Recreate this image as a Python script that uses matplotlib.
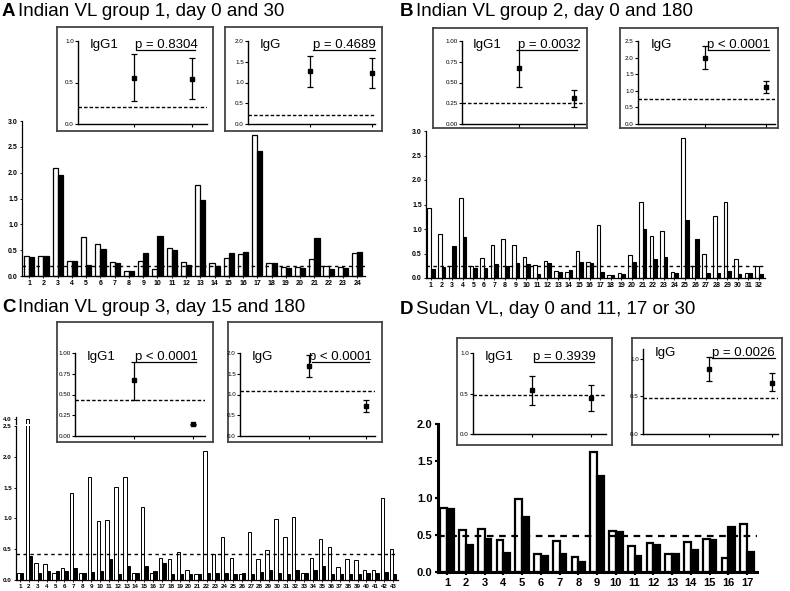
import matplotlib
matplotlib.use('Agg')
import matplotlib.pyplot as plt
import numpy as np

W, H = 790, 591
plt.rcParams['font.family'] = ['Liberation Sans', 'DejaVu Sans']

# ---- bar data (white = first time point, black = second) ----
a_white = [0.39, 0.39, 2.10, 0.30, 0.76, 0.61, 0.27, 0.09, 0.29, 0.13, 0.54, 0.28,
           1.77, 0.25, 0.35, 0.42, 2.72, 0.26, 0.17, 0.17, 0.32, 0.19, 0.18, 0.45]
a_black = [0.36, 0.39, 1.95, 0.29, 0.22, 0.53, 0.26, 0.09, 0.45, 0.77, 0.51, 0.21,
           1.48, 0.19, 0.44, 0.46, 2.41, 0.26, 0.15, 0.16, 0.73, 0.14, 0.15, 0.46]
a_cut = 0.20

b_white = [1.43, 0.90, 0.25, 1.63, 0.25, 0.40, 0.67, 0.80, 0.68, 0.42, 0.26, 0.34,
           0.15, 0.12, 0.56, 0.32, 1.09, 0.07, 0.11, 0.46, 1.56, 0.85, 0.95, 0.12,
           2.85, 0.24, 0.50, 1.26, 1.56, 0.39, 0.10, 0.25]
b_black = [0.19, 0.22, 0.65, 0.83, 0.20, 0.20, 0.29, 0.25, 0.31, 0.29, 0.08, 0.31,
           0.12, 0.16, 0.32, 0.31, 0.12, 0.06, 0.08, 0.33, 1.00, 0.38, 0.42, 0.10,
           1.18, 0.79, 0.11, 0.11, 0.14, 0.09, 0.10, 0.09]
b_cut = 0.245

c_white = [0.11, 4.00, 0.28, 0.26, 0.12, 0.20, 1.41, 0.11, 1.67, 0.96, 0.97, 1.51,
           1.68, 0.12, 1.18, 0.11, 0.36, 0.34, 0.46, 0.17, 0.09, 2.09, 0.43, 0.69,
           0.36, 0.10, 0.78, 0.34, 0.49, 0.99, 0.70, 1.03, 0.12, 0.36, 0.67, 0.54,
           0.21, 0.34, 0.33, 0.17, 0.16, 1.33, 0.51]
c_black = [0.11, 0.39, 0.12, 0.15, 0.15, 0.15, 0.20, 0.11, 0.13, 0.14, 0.34, 0.10,
           0.23, 0.12, 0.22, 0.15, 0.27, 0.10, 0.10, 0.10, 0.09, 0.12, 0.11, 0.11,
           0.09, 0.11, 0.09, 0.13, 0.17, 0.12, 0.09, 0.16, 0.11, 0.16, 0.22, 0.10,
           0.09, 0.10, 0.09, 0.12, 0.11, 0.13, 0.10]
c_cut = 0.43

d_white = [0.87, 0.57, 0.58, 0.43, 0.99, 0.24, 0.42, 0.20, 1.62, 0.56, 0.35, 0.39,
           0.24, 0.41, 0.44, 0.19, 0.65]
d_black = [0.85, 0.36, 0.45, 0.26, 0.74, 0.21, 0.25, 0.13, 1.30, 0.54, 0.22, 0.36,
           0.25, 0.30, 0.43, 0.61, 0.27]
d_cut = 0.48

# ---- inset data: mean, low, high for the two time points ----
ins_a1 = dict(label='IgG1', p='p = 0.8304', mean=[0.55, 0.54], lo=[0.28, 0.30], hi=[0.84, 0.80], cut=0.20)
ins_a2 = dict(label='IgG', p='p = 0.4689', mean=[1.27, 1.22], lo=[0.90, 0.87], hi=[1.64, 1.59], cut=0.22)
ins_b1 = dict(label='IgG1', p='p = 0.0032', mean=[0.67, 0.31], lo=[0.45, 0.21], hi=[0.89, 0.41], cut=0.25)
ins_b2 = dict(label='IgG', p='p < 0.0001', mean=[2.00, 1.10], lo=[1.67, 0.92], hi=[2.35, 1.30], cut=0.75)
ins_c1 = dict(label='IgG1', p='p < 0.0001', mean=[0.67, 0.14], lo=[0.43, 0.13], hi=[0.89, 0.15], cut=0.43)
ins_c2 = dict(label='IgG', p='p < 0.0001', mean=[1.68, 0.72], lo=[1.42, 0.58], hi=[1.95, 0.86], cut=1.08)
ins_d1 = dict(label='IgG1', p='p = 0.3939', mean=[0.54, 0.44], lo=[0.36, 0.29], hi=[0.72, 0.60], cut=0.48)
ins_d2 = dict(label='IgG', p='p = 0.0026', mean=[0.87, 0.68], lo=[0.71, 0.57], hi=[1.03, 0.81], cut=0.48)


def rect(l, t, r, b):
    return [l / W, 1 - b / H, (r - l) / W, (b - t) / H]


def bar_panel(fig, pos, white, black, cut, ylim, yticks, xlim, width, lw,
              labsize, bold_axes=False, clip=False):
    ax = fig.add_axes(rect(*pos))
    x = np.arange(len(white))
    ax.bar(x - width / 2, white, width, color='white', edgecolor='black', lw=lw, clip_on=clip)
    ax.bar(x + width / 2, black, width, color='black', edgecolor='black', lw=lw, clip_on=clip)
    ax.axhline(cut, color='black', lw=1.6 if bold_axes else 1.0,
               ls=(0, (3, 2.5)) if bold_axes else (0, (2.5, 2.5)))
    ax.set_xlim(*xlim)
    ax.set_ylim(*ylim)
    ax.set_yticks(yticks)
    ax.set_yticklabels([f'{t:.1f}' for t in yticks])
    ax.set_xticks(x)
    ax.set_xticklabels([str(i + 1) for i in x])
    for s in ['top', 'right']:
        ax.spines[s].set_visible(False)
    sw = 2.2 if bold_axes else 0.9
    for s in ['left', 'bottom']:
        ax.spines[s].set_linewidth(sw)
    ax.tick_params(labelsize=labsize, length=2.5 if bold_axes else 1.5,
                   width=sw * 0.7, pad=1.5)
    for t in ax.get_xticklabels() + ax.get_yticklabels():
        t.set_fontweight('bold')
    ax.patch.set_alpha(0)
    return ax


def inset(fig, box, inner, d, ylim, yticks, fmt, xlim=(0.05, 2.25)):
    bx = fig.add_axes(rect(*box))
    bx.set_xticks([])
    bx.set_yticks([])
    for s in bx.spines.values():
        s.set_color('#444444')
        s.set_linewidth(1.3)
    ax = fig.add_axes(rect(*inner))
    m = np.array(d['mean'])
    err = [m - np.array(d['lo']), np.array(d['hi']) - m]
    ax.errorbar([1, 2], m, yerr=err, fmt='s', color='black', ms=3.5,
                capsize=2.5, elinewidth=0.9, capthick=0.9)
    ax.axhline(d['cut'], color='black', lw=1.0, ls=(0, (2.5, 1.5)))
    ax.set_xlim(*xlim)
    ax.set_ylim(*ylim)
    ax.set_yticks(yticks)
    ax.set_yticklabels([fmt.format(t) for t in yticks])
    ax.set_xticks([1, 2])
    ax.set_xticklabels([])
    for s in ['top', 'right']:
        ax.spines[s].set_visible(False)
    for s in ['left', 'bottom']:
        ax.spines[s].set_linewidth(1.0)
    ax.tick_params(labelsize=4.5, length=2, width=0.8, pad=1)
    ax.patch.set_alpha(0)
    ax.text(0.09, 1.02, d['label'], transform=ax.transAxes, fontsize=9.5, va='top')
    tr = ax.get_xaxis_transform()
    ax.text(1.55, 1.02, d['p'], transform=tr, fontsize=9.5, va='top', ha='center')
    ax.plot([1.05, 2.05], [0.89, 0.89], transform=tr, color='black', lw=0.9, clip_on=False)
    return ax


fig = plt.figure(figsize=(W / 100, H / 100), dpi=100)


def title(x, y, letter, text):
    fig.text(x / W, 1 - y / H, letter, fontsize=13.5, fontweight='bold', va='center')
    fig.text((x + 16) / W, 1 - y / H, text, fontsize=13.5, va='center')


title(2, 12, 'A', 'Indian VL group 1, day 0 and 30')
title(400, 12, 'B', 'Indian VL group 2, day 0 and 180')
title(2, 308, 'C', 'Indian VL group 3, day 15 and 180')
title(400, 310, 'D', 'Sudan VL, day 0 and 11, 17 or 30')

# ---- bar charts ----
bar_panel(fig, (22, 121, 365, 276), a_white, a_black, a_cut, (0, 3.0),
          np.arange(0, 3.01, 0.5), (-0.5, 23.55), 0.36, 0.9, 5)
bar_panel(fig, (426, 131, 765, 278), b_white, b_black, b_cut, (0, 3.0),
          np.arange(0, 3.01, 0.5), (-0.47, 31.57), 0.34, 0.8, 5)
c_pos = (16, 426, 398, 580)
bar_panel(fig, c_pos, c_white, c_black, c_cut, (0, 2.5),
          np.arange(0, 2.51, 0.5), (-0.45, 42.55), 0.38, 0.7, 4.5, clip=True)
# broken axis: short top segment of panel C showing the value near 4.0
axc_top = fig.add_axes(rect(16, 417, 398, 424))
xc = np.arange(len(c_white))
axc_top.bar(xc - 0.19, c_white, 0.38, color='white', edgecolor='black', lw=0.7)
axc_top.set_xlim(-0.45, 42.55)
axc_top.set_ylim(3.93, 4.03)
axc_top.set_yticks([4.0])
axc_top.set_yticklabels(['4.0'])
axc_top.set_xticks([])
for s in ['top', 'right', 'bottom']:
    axc_top.spines[s].set_visible(False)
axc_top.spines['left'].set_linewidth(0.9)
axc_top.tick_params(labelsize=4.5, length=1.5, width=0.6, pad=1.5)
for t in axc_top.get_yticklabels():
    t.set_fontweight('bold')
axc_top.patch.set_alpha(0)

bar_panel(fig, (438, 424, 757, 572), d_white, d_black, d_cut, (0, 2.0),
          np.arange(0, 2.01, 0.5), (-0.48, 16.53), 0.36, 1.6, 8, bold_axes=True)

# ---- insets ----
inset(fig, (57, 27, 213, 131), (78, 41, 207, 124), ins_a1, (0, 1.0), [0, 0.5, 1.0], '{:.1f}')
inset(fig, (225, 27, 382, 131), (248, 41, 375, 124), ins_a2, (0, 2.0), [0, 0.5, 1.0, 1.5, 2.0], '{:.1f}',
      xlim=(0.0, 2.05))
inset(fig, (433, 28, 587, 128), (462, 41, 585, 124), ins_b1, (0, 1.0), [0, 0.25, 0.5, 0.75, 1.0], '{:.2f}',
      xlim=(-0.05, 2.2))
inset(fig, (620, 28, 778, 128), (638, 41, 775, 124), ins_b2, (0, 2.5), [0, 0.5, 1.0, 1.5, 2.0, 2.5], '{:.1f}',
      xlim=(-0.1, 2.15))
inset(fig, (57, 322, 213, 442), (75, 353, 205, 436), ins_c1, (0, 1.0), [0, 0.25, 0.5, 0.75, 1.0], '{:.2f}',
      xlim=(0.0, 2.2))
inset(fig, (228, 322, 382, 442), (240, 353, 375, 436), ins_c2, (0, 2.0), [0, 0.5, 1.0, 1.5, 2.0], '{:.1f}',
      xlim=(-0.2, 2.15))
inset(fig, (457, 338, 612, 445), (473, 353, 606, 434), ins_d1, (0, 1.0), [0, 0.5, 1.0], '{:.1f}',
      xlim=(0.0, 2.25))
inset(fig, (632, 338, 782, 445), (643, 349, 778, 434), ins_d2, (0, 1.13), [0, 0.5, 1.0], '{:.1f}',
      xlim=(-0.05, 2.1))

fig.savefig('out.png', dpi=100)
